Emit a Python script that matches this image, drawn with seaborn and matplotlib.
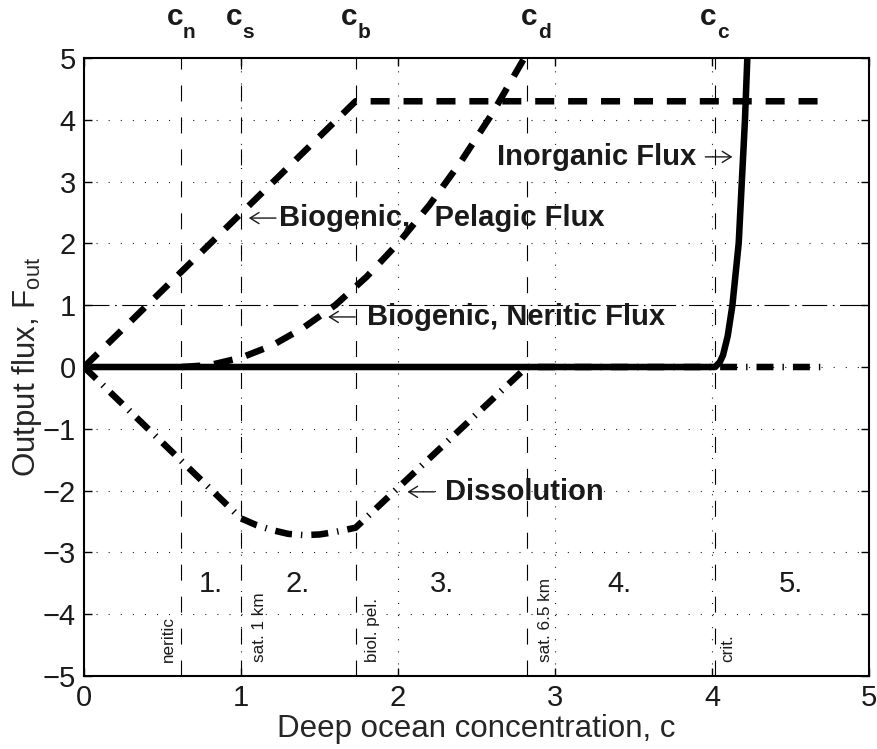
import numpy as np
import pandas as pd
import matplotlib
matplotlib.use("Agg")
import matplotlib.pyplot as plt
import seaborn as sns

# ---------------- data ----------------
# threshold concentrations
thr_base = ["c", "c", "c", "c", "c"]
thr_sub = ["n", "s", "b", "d", "c"]
thr_x = [0.62, 1.0, 1.73, 2.82, 4.02]
thr_label_x = [0.62, 1.0, 1.73, 2.88, 4.02]
thr_side_text = ["neritic", "sat. 1 km", "biol. pel.", "sat. 6.5 km", "crit."]
thr_side_x = [0.535, 1.115, 1.835, 2.94, 4.10]

# biogenic pelagic flux
pel_x = [0.0, 1.73, 4.73]
pel_y = [0.0, 4.30, 4.30]

# biogenic neritic flux
ner_x = [0.62, 0.80, 1.00, 1.20, 1.40, 1.60, 1.80, 2.00, 2.20, 2.40, 2.60, 2.80]
ner_y = [0.00, 0.03, 0.15, 0.35, 0.64, 1.00, 1.46, 2.00, 2.62, 3.32, 4.10, 4.98]

# inorganic flux
ino_x = [0.0, 4.02, 4.05, 4.07, 4.10, 4.13, 4.15, 4.17, 4.19, 4.21, 4.225]
ino_y = [0.0, 0.00, 0.08, 0.19, 0.50, 1.00, 1.50, 2.00, 3.00, 4.00, 5.00]

# dissolution
dis_x = [0.0, 1.00, 1.10, 1.20, 1.30, 1.40, 1.50, 1.60, 1.73, 2.82, 4.73]
dis_y = [0.0, -2.45, -2.56, -2.64, -2.70, -2.72, -2.71, -2.67, -2.60, 0.0, 0.0]

# curve labels: text, arrow tip x, y, side of arrow
lab_text = ["Biogenic,   Pelagic Flux", "Biogenic, Neritic Flux", "Inorganic Flux", "Dissolution"]
lab_tip_x = [1.05, 1.555, 4.13, 2.06]
lab_y = [2.41, 0.81, 3.40, -2.02]
lab_side = ["left", "left", "right", "left"]
lab_gap_pt = [21.6, 28.0, 26.0, 27.4]

# regime numbers
reg_labels = ["1.", "2.", "3.", "4.", "5."]
reg_x = [0.81, 1.36, 2.28, 3.41, 4.50]
reg_y = -3.51

ref_level = 1.0

# ---------------- style ----------------
sns.set_theme(style="ticks")
plt.rcParams["font.family"] = ["Liberation Sans", "DejaVu Sans"]
plt.rcParams["mathtext.fontset"] = "custom"
plt.rcParams["mathtext.rm"] = "Liberation Sans"
plt.rcParams["mathtext.it"] = "Liberation Sans:italic"
plt.rcParams["mathtext.bf"] = "Liberation Sans:bold"
plt.rcParams["lines.scale_dashes"] = False
plt.rcParams["text.color"] = "#1a1a1a"

fig = plt.figure(figsize=(8.78, 7.49), dpi=100)
ax = fig.add_axes([84 / 878, (749 - 676) / 749, 785 / 878, 618 / 749])

ax.set_xlim(0, 5)
ax.set_ylim(-5, 5)
ax.set_xticks(range(0, 6))
ax.set_yticks(range(-5, 6))

# grid (dotted)
for gx in range(1, 5):
    ax.axvline(gx, color="black", lw=0.8, linestyle=(0, (0.7, 8.0)), zorder=1)
for gy in range(-4, 5):
    if gy == ref_level:
        continue
    ax.axhline(gy, color="black", lw=0.8, linestyle=(0, (0.7, 8.0)), zorder=1)

# reference level dash-dot
ax.axhline(ref_level, color="black", lw=0.8, linestyle=(0, (18, 4, 1.2, 4)), zorder=1)

# threshold lines
for tx in thr_x:
    ax.axvline(tx, color="black", lw=0.8, linestyle=(0, (11.5, 11.5)), zorder=1.5)

thick = 4.7
df_dis = pd.DataFrame({"x": dis_x, "y": dis_y})
sns.lineplot(data=df_dis, x="x", y="y", ax=ax, color="black", linewidth=thick,
             linestyle=(0, (12.2, 6.5, 1.0, 6.5)), sort=False, estimator=None, zorder=3)

df_pel = pd.DataFrame({"x": pel_x, "y": pel_y})
sns.lineplot(data=df_pel, x="x", y="y", ax=ax, color="black", linewidth=thick,
             linestyle=(0, (13.7, 10.0)), sort=False, estimator=None, zorder=3)

df_ner = pd.DataFrame({"x": ner_x, "y": ner_y})
sns.lineplot(data=df_ner, x="x", y="y", ax=ax, color="black", linewidth=thick,
             linestyle=(0, (13.7, 10.0)), sort=False, estimator=None, zorder=3)

df_ino = pd.DataFrame({"x": ino_x, "y": ino_y})
sns.lineplot(data=df_ino, x="x", y="y", ax=ax, color="black", linewidth=thick,
             linestyle="-", sort=False, estimator=None, zorder=4)

# curve annotations: thin arrow + bold words
ann_fs = 21
arrow_len = 19.5  # points
aprops = dict(arrowstyle="->,head_length=0.32,head_width=0.2", lw=1.0,
              color="#1a1a1a", shrinkA=0, shrinkB=0, mutation_scale=20)
for txt, tx, ty, side, gap in zip(lab_text, lab_tip_x, lab_y, lab_side, lab_gap_pt):
    sgn = 1 if side == "left" else -1
    ax.annotate("", xy=(tx, ty), xytext=(sgn * arrow_len, 0), textcoords="offset points",
                arrowprops=aprops, zorder=5)
    ax.annotate(txt, xy=(tx, ty), xytext=(sgn * gap, 0), textcoords="offset points",
                fontsize=ann_fs, fontweight="bold", ha=side, va="center", zorder=5)

# regime numbers
for lab, rx in zip(reg_labels, reg_x):
    ax.text(rx, reg_y, lab, fontsize=21, ha="center", va="center")

# side labels of thresholds
for t, sx in zip(thr_side_text, thr_side_x):
    ax.text(sx, -4.77, t, fontsize=12.3, rotation=90, ha="center", va="bottom")

# top labels: bold c with lowered subscript
for b, s, lx in zip(thr_base, thr_sub, thr_label_x):
    ax.annotate(b, xy=(lx, 5.53), xytext=(1.2, 0), textcoords="offset points",
                fontsize=21.5, fontweight="bold", ha="right", va="baseline",
                annotation_clip=False)
    ax.annotate(s, xy=(lx, 5.53), xytext=(1.2, -9.4), textcoords="offset points",
                fontsize=15, fontweight="bold", ha="left", va="baseline",
                annotation_clip=False)

ax.set_xlabel("Deep ocean concentration, c", fontsize=22.5, labelpad=1)
ax.set_ylabel(r"Output flux, F$_{\mathrm{out}}$", fontsize=22.5, labelpad=-1)

ax.tick_params(axis="both", direction="in", length=6, width=1.0, labelsize=21,
               top=True, right=True, pad=6, colors="black", labelcolor="#1a1a1a")
for sp in ax.spines.values():
    sp.set_visible(True)
    sp.set_linewidth(1.5)
    sp.set_color("black")

fig.savefig("out.png", dpi=100)
